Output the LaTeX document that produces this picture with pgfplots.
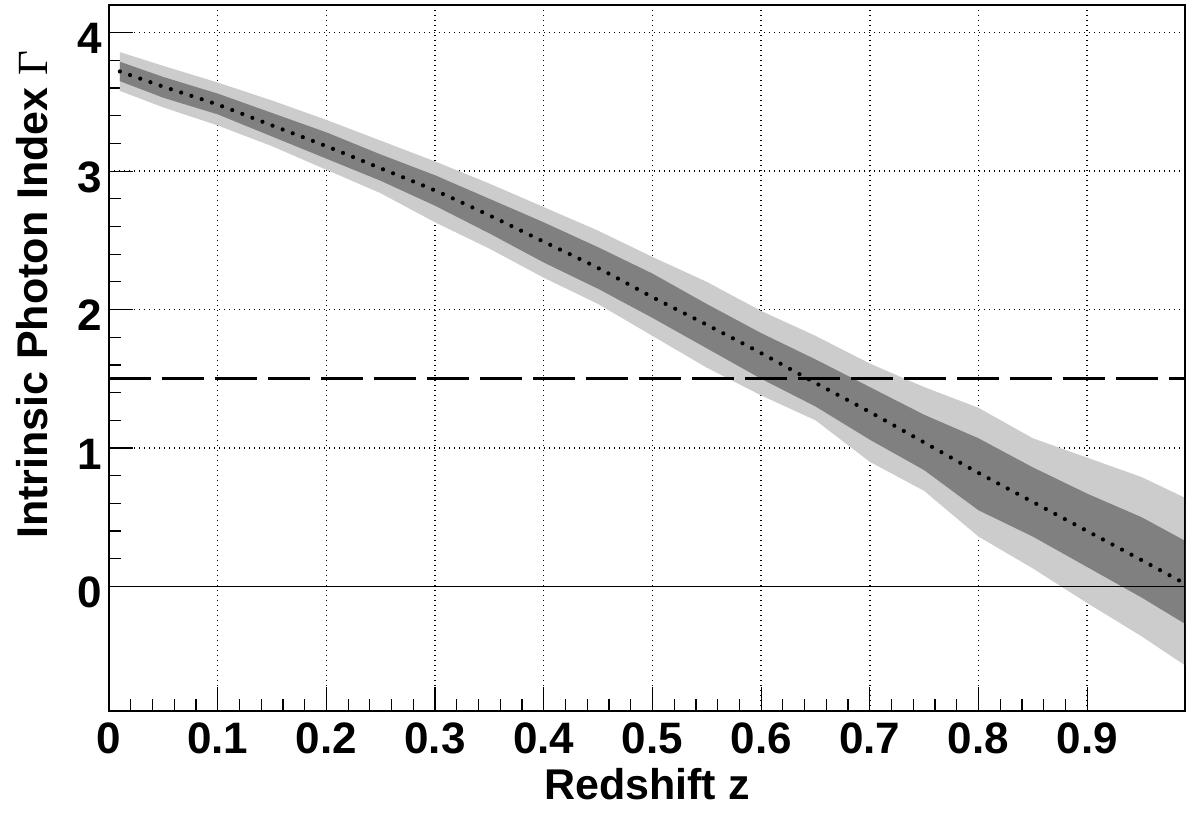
\documentclass[border=0pt]{standalone}
\usepackage{fontspec}
\setmainfont{Liberation Sans}
\newfontfamily\greekserif{Liberation Serif}
\usepackage{pgfplots}
\pgfplotsset{compat=1.18}
\usepgfplotslibrary{fillbetween}
\usepackage{pgfplotstable}

% band edges (2 sigma, 1 sigma) and the central curve
\pgfplotstableread{
z     lotwo  loone  mid    hione  hitwo
0.01  3.58   3.65   3.72   3.79   3.86
0.05  3.46   3.53   3.61   3.68   3.76
0.10  3.33   3.41   3.48   3.56   3.64
0.15  3.18   3.25   3.33   3.42   3.51
0.20  3.01   3.09   3.18   3.28   3.37
0.25  2.84   2.93   3.02   3.12   3.22
0.30  2.63   2.75   2.86   2.97   3.07
0.35  2.44   2.55   2.68   2.80   2.91
0.40  2.23   2.34   2.49   2.63   2.74
0.45  2.04   2.15   2.30   2.45   2.57
0.50  1.81   1.94   2.09   2.26   2.38
0.55  1.58   1.72   1.89   2.04   2.20
0.60  1.38   1.50   1.685  1.83   1.99
0.65  1.20   1.30   1.47   1.64   1.81
0.70  0.90   1.06   1.26   1.44   1.61
0.75  0.69   0.84   1.04   1.24   1.44
0.80  0.36   0.55   0.82   1.07   1.29
0.85  0.13   0.36   0.61   0.86   1.07
0.90  -0.12  0.14   0.40   0.67   0.93
0.95  -0.36  -0.08  0.19   0.50   0.79
0.99  -0.57  -0.27  0.02   0.33   0.64
}\bandtable

\definecolor{bandlight}{gray}{0.8}
\definecolor{banddark}{gray}{0.5}

\begin{document}
\begin{tikzpicture}
\begin{axis}[
    at={(54.5pt,51.5pt)}, anchor=south west,
    scale only axis, width=538pt, height=353pt,
    xmin=0, xmax=0.99, ymin=-0.9, ymax=4.2,
    xtick={0,0.1,0.2,0.3,0.4,0.5,0.6,0.7,0.8,0.9},
    ytick={0,1,2,3,4},
    minor x tick num=4, minor y tick num=4,
    tick pos=left, tick align=inside,
    major tick length=12pt, minor tick length=6pt,
    every tick/.style={black, line width=0.6pt},
    axis line style={line width=1.3pt},
    grid=major,
    grid style={black, line width=0.7pt, dash pattern=on 0.7pt off 1.8pt},
    /pgf/number format/assume math mode=true,
    ticklabel style={font=\fontsize{22pt}{26pt}\selectfont\bfseries, inner sep=0pt},
    xticklabel style={anchor=base, yshift=-21pt},
    yticklabel style={anchor=east, xshift=-3.5pt, yshift=-3pt},
    label style={font=\fontsize{21.5pt}{26pt}\selectfont\bfseries, inner sep=0pt},
    xlabel={Redshift z},
    xlabel style={at={(axis description cs:0.5,-0.126)}, anchor=base},
    ylabel={Intrinsic Photon Index {\greekserif\mdseries Γ}},
    ylabel style={at={(axis description cs:-0.0576,0.936)}, anchor=base east},
]
\addplot[black, line width=0.7pt] coordinates {(0,0) (0.99,0)};

\addplot[draw=none, name path=ltwo] table[x=z, y=lotwo] {\bandtable};
\addplot[draw=none, name path=htwo] table[x=z, y=hitwo] {\bandtable};
\addplot[draw=none, name path=lone] table[x=z, y=loone] {\bandtable};
\addplot[draw=none, name path=hone] table[x=z, y=hione] {\bandtable};
\addplot[bandlight, draw=none] fill between[of=ltwo and htwo];
\addplot[banddark, draw=none] fill between[of=lone and hone];

\addplot[black, line width=1.5pt, dash pattern=on 21pt off 5.5pt] coordinates {(0,1.5) (0.99,1.5)};
\addplot[black, line width=2.1pt, line cap=round, dash pattern=on 0pt off 5.4pt, smooth] table[x=z, y=mid] {\bandtable};
\draw[line width=1.3pt] (rel axis cs:1,0) -- (rel axis cs:1,1);
\end{axis}
\path (0,0) rectangle (594pt,407pt);
\end{tikzpicture}
\end{document}
